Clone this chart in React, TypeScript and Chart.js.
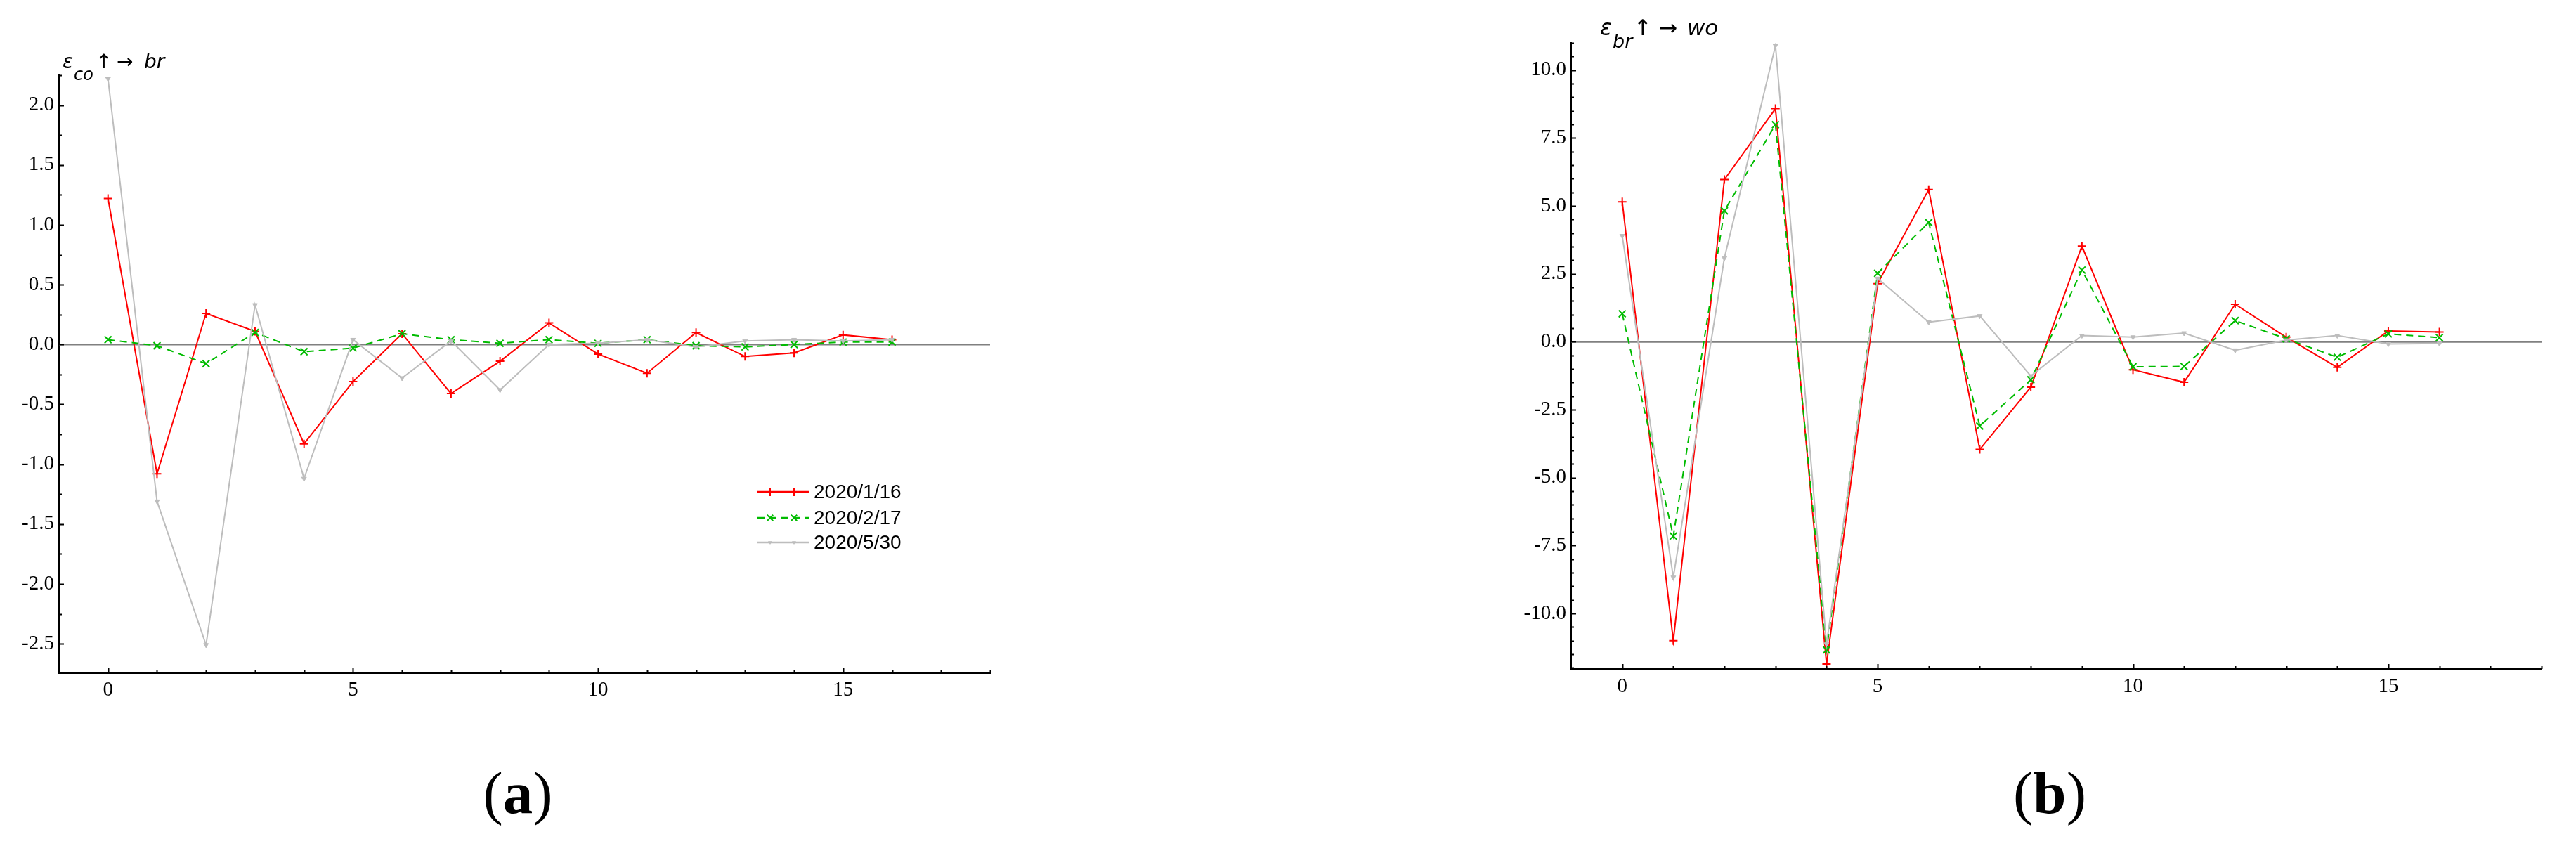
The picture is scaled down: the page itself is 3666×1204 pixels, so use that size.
import React, { useEffect, useRef } from 'react';
import { Chart, registerables } from 'chart.js';

Chart.register(...registerables);

// ---------- data ----------
const lags = [0, 1, 2, 3, 4, 5, 6, 7, 8, 9, 10, 11, 12, 13, 14, 15, 16];
const seriesNames = ['2020/1/16', '2020/2/17', '2020/5/30'];

// panel (a): ε_co ↑ → br
const aJan16 = [1.22, -1.08, 0.26, 0.11, -0.83, -0.31, 0.09, -0.41, -0.14, 0.18, -0.08, -0.24, 0.10, -0.10, -0.07, 0.08, 0.04];
const aFeb17 = [0.04, -0.01, -0.16, 0.10, -0.06, -0.03, 0.09, 0.04, 0.01, 0.04, 0.01, 0.04, -0.01, -0.02, 0.0, 0.02, 0.02];
const aMay30 = [2.22, -1.31, -2.51, 0.33, -1.12, 0.04, -0.28, 0.03, -0.38, 0.0, 0.01, 0.04, -0.02, 0.03, 0.04, 0.03, 0.04];

// panel (b): ε_br ↑ → wo
const bJan16 = [5.15, -11.0, 5.97, 8.58, -11.86, 2.14, 5.6, -3.96, -1.67, 3.52, -1.03, -1.49, 1.38, 0.17, -0.94, 0.4, 0.36];
const bFeb17 = [1.03, -7.15, 4.82, 7.99, -11.34, 2.52, 4.39, -3.1, -1.4, 2.64, -0.92, -0.91, 0.78, 0.11, -0.57, 0.29, 0.15];
const bMay30 = [3.9, -8.67, 3.08, 10.9, -11.13, 2.33, 0.72, 0.95, -1.26, 0.23, 0.17, 0.32, -0.31, 0.06, 0.23, -0.08, -0.06];

// ticks
const xTickLabels = [0, 5, 10, 15];
const yTickLabelsA = [-2.5, -2.0, -1.5, -1.0, -0.5, 0, 0.5, 1.0, 1.5, 2.0];
const yTickLabelsB = [-10, -7.5, -5, -2.5, 0, 2.5, 5, 7.5, 10];

// ---------- styles ----------
const seriesStyles = [
  { color: '#ff0000', dash: [] as number[], pointStyle: 'cross', r: 6, rot: 0, pbw: 2, order: 3 },
  { color: '#00bb00', dash: [10, 7], pointStyle: 'crossRot', r: 7, rot: 0, pbw: 2, order: 2 },
  { color: '#bdbdbd', dash: [] as number[], pointStyle: 'triangle', r: 4, rot: 180, pbw: 1, order: 1 },
];

const inTicksPlugin = {
  id: 'inTicks',
  afterDraw(chart: any, _args: any, opts: any) {
    const { ctx, chartArea } = chart;
    const xs = chart.scales.x;
    const ys = chart.scales.y;
    ctx.save();
    ctx.strokeStyle = '#000';
    ctx.lineWidth = 2;
    ctx.beginPath();
    const xMin = xs.min, xMax = xs.max;
    for (let v = Math.ceil(xMin); v <= xMax + 1e-9; v += 1) {
      if (v === xMin) continue;
      const px = Math.round(xs.getPixelForValue(v)) + 0.5;
      const len = v % 5 === 0 ? 7 : 4;
      ctx.moveTo(px, chartArea.bottom);
      ctx.lineTo(px, chartArea.bottom - len);
    }
    const step = opts.yMinorStep;
    const major = opts.yMajorStep;
    const start = Math.ceil(ys.min / step) * step;
    for (let v = start; v <= ys.max + 1e-9; v += step) {
      const py = Math.round(ys.getPixelForValue(v)) + 0.5;
      const isMajor = Math.abs(v / major - Math.round(v / major)) < 1e-6;
      const len = isMajor ? 7 : 4;
      ctx.moveTo(chartArea.left, py);
      ctx.lineTo(chartArea.left + len, py);
    }
    ctx.stroke();
    ctx.restore();
  },
};

const zeroLinePlugin = {
  id: 'zeroLine',
  beforeDatasetsDraw(chart: any) {
    const { ctx, chartArea } = chart;
    const py = chart.scales.y.getPixelForValue(0);
    ctx.save();
    ctx.strokeStyle = '#808080';
    ctx.lineWidth = 2.5;
    ctx.beginPath();
    ctx.moveTo(chartArea.left, py);
    ctx.lineTo(chartArea.right, py);
    ctx.stroke();
    ctx.restore();
  },
};

function drawMarker(ctx: CanvasRenderingContext2D, style: string, x: number, y: number, r: number) {
  ctx.beginPath();
  if (style === 'cross') {
    ctx.moveTo(x - r, y); ctx.lineTo(x + r, y);
    ctx.moveTo(x, y - r); ctx.lineTo(x, y + r);
    ctx.stroke();
  } else if (style === 'crossRot') {
    const d = r * 0.707;
    ctx.moveTo(x - d, y - d); ctx.lineTo(x + d, y + d);
    ctx.moveTo(x - d, y + d); ctx.lineTo(x + d, y - d);
    ctx.stroke();
  } else {
    ctx.moveTo(x - r, y - r * 0.6); ctx.lineTo(x + r, y - r * 0.6); ctx.lineTo(x, y + r);
    ctx.closePath();
    ctx.fill();
  }
}

const legendPlugin = {
  id: 'customLegend',
  afterDraw(chart: any, _args: any, opts: any) {
    if (!opts || !opts.show) return;
    const { ctx } = chart;
    const rows = [700, 737, 772];
    ctx.save();
    seriesNames.forEach((name, i) => {
      const st = seriesStyles[i];
      const y = rows[i];
      ctx.strokeStyle = st.color;
      ctx.fillStyle = st.color;
      ctx.lineWidth = 2.5;
      ctx.setLineDash(st.dash);
      ctx.beginPath();
      ctx.moveTo(1078, y);
      ctx.lineTo(1151, y);
      ctx.stroke();
      ctx.setLineDash([]);
      ctx.lineWidth = 2;
      const mr = i === 2 ? 3 : 6;
      drawMarker(ctx, st.pointStyle, 1096, y, mr);
      drawMarker(ctx, st.pointStyle, 1130, y, mr);
      ctx.fillStyle = '#000';
      ctx.font = '28px "Liberation Sans"';
      ctx.textBaseline = 'middle';
      ctx.textAlign = 'left';
      ctx.fillText(name, 1158, y + 1);
    });
    ctx.restore();
  },
};

function makeConfig(p: {
  series: number[][];
  yMin: number;
  yMax: number;
  yTicks: number[];
  yAxisWidth: number;
  padTop: number;
  padRight: number;
  yMinorStep: number;
  yMajorStep: number;
  legend: boolean;
}) {
  const tickFont = { family: '"Liberation Serif", serif', size: 29 };
  return {
    type: 'line',
    data: {
      datasets: p.series.map((vals, i) => {
        const st = seriesStyles[i];
        return {
          label: seriesNames[i],
          data: lags.map((x, j) => ({ x, y: vals[j] })),
          borderColor: st.color,
          backgroundColor: st.color,
          borderWidth: 2,
          borderDash: st.dash,
          pointStyle: st.pointStyle,
          pointRadius: st.r,
          pointRotation: st.rot,
          pointBorderColor: st.color,
          pointBackgroundColor: st.color,
          pointBorderWidth: st.pbw,
          tension: 0,
          fill: false,
          order: st.order,
        };
      }),
    },
    options: {
      animation: false,
      responsive: false,
      devicePixelRatio: 1,
      events: [],
      layout: { padding: { top: p.padTop, right: p.padRight, left: 0, bottom: 0 } },
      plugins: {
        legend: { display: false },
        tooltip: { enabled: false },
        inTicks: { yMinorStep: p.yMinorStep, yMajorStep: p.yMajorStep },
        customLegend: { show: p.legend },
      },
      scales: {
        x: {
          type: 'linear',
          min: -1,
          max: 18,
          afterBuildTicks: (s: any) => {
            s.ticks = xTickLabels.map((v) => ({ value: v }));
          },
          afterFit: (s: any) => {
            s.height = 60;
          },
          ticks: {
            callback: (v: any) => String(v),
            color: '#000',
            font: tickFont,
            padding: 8,
            maxRotation: 0,
            autoSkip: false,
          },
          grid: { display: true, drawOnChartArea: false, drawTicks: false },
          border: { display: true, color: '#000', width: 3 },
        },
        y: {
          type: 'linear',
          min: p.yMin,
          max: p.yMax,
          afterBuildTicks: (s: any) => {
            s.ticks = p.yTicks.map((v) => ({ value: v }));
          },
          afterFit: (s: any) => {
            s.width = p.yAxisWidth;
          },
          ticks: {
            callback: (v: any) => Number(v).toFixed(1),
            color: '#000',
            font: tickFont,
            padding: 7,
            autoSkip: false,
          },
          grid: { display: true, drawOnChartArea: false, drawTicks: false },
          border: { display: true, color: '#000', width: 2 },
        },
      },
    },
    plugins: [zeroLinePlugin, inTicksPlugin, legendPlugin],
  } as any;
}

function ChartCanvas(props: { left: number; top: number; width: number; height: number; config: () => any }) {
  const ref = useRef<HTMLCanvasElement>(null);
  useEffect(() => {
    const chart = new Chart(ref.current as HTMLCanvasElement, props.config());
    return () => chart.destroy();
  }, []);
  return (
    <canvas
      ref={ref}
      width={props.width}
      height={props.height}
      style={{ position: 'absolute', left: props.left, top: props.top, width: props.width, height: props.height }}
    />
  );
}

function T(props: {
  x: number;
  base: number;
  size: number;
  family: string;
  italic?: boolean;
  bold?: boolean;
  children: React.ReactNode;
}) {
  const k = props.family.includes('DejaVu') ? 0.846 : 0.8375;
  return (
    <div
      style={{
        position: 'absolute',
        left: props.x,
        top: props.base - k * props.size,
        fontSize: props.size,
        lineHeight: `${props.size}px`,
        fontFamily: props.family,
        fontStyle: props.italic ? 'italic' : 'normal',
        fontWeight: props.bold ? 'bold' : 'normal',
        whiteSpace: 'nowrap',
        color: '#000',
      }}
    >
      {props.children}
    </div>
  );
}

function Caption(props: { cx: number; base: number; letter: string }) {
  const size = 85;
  return (
    <div
      style={{
        position: 'absolute',
        left: props.cx - 200,
        width: 400,
        top: props.base - 0.8375 * size,
        fontSize: size,
        lineHeight: `${size}px`,
        fontFamily: '"Liberation Serif"',
        textAlign: 'center',
        color: '#000',
      }}
    >
      (<b>{props.letter}</b>)
    </div>
  );
}

const DV = '"DejaVu Sans"';

export default function App() {
  return (
    <div style={{ position: 'fixed', left: 0, top: 0, width: 3666, height: 1204, background: '#fff', overflow: 'hidden' }}>
      <ChartCanvas
        left={0}
        top={0}
        width={1500}
        height={1017}
        config={() =>
          makeConfig({
            series: [aJan16, aFeb17, aMay30],
            yMin: -2.74,
            yMax: 2.25,
            yTicks: yTickLabelsA,
            yAxisWidth: 84,
            padTop: 107,
            padRight: 91,
            yMinorStep: 0.25,
            yMajorStep: 0.5,
            legend: true,
          })
        }
      />
      <ChartCanvas
        left={2100}
        top={0}
        width={1566}
        height={1012}
        config={() =>
          makeConfig({
            series: [bJan16, bFeb17, bMay30],
            yMin: -12.04,
            yMax: 11,
            yTicks: yTickLabelsB,
            yAxisWidth: 136,
            padTop: 61,
            padRight: 49,
            yMinorStep: 0.5,
            yMajorStep: 2.5,
            legend: false,
          })
        }
      />

      {/* axis label (a) */}
      <T x={89} base={98} size={28} family={DV} italic>ε</T>
      <T x={105} base={114} size={24} family={DV} italic>co</T>
      <T x={136} base={98} size={28} family={DV}>↑</T>
      <T x={166} base={98} size={28} family={DV}>→</T>
      <T x={205} base={98} size={28} family={DV} italic>br</T>

      {/* axis label (b) */}
      <T x={2277} base={50} size={31} family={DV} italic>ε</T>
      <T x={2295} base={68} size={27} family={DV} italic>br</T>
      <T x={2325} base={50} size={31} family={DV}>↑</T>
      <T x={2361} base={50} size={31} family={DV}>→</T>
      <T x={2401} base={50} size={31} family={DV} italic>wo</T>

      <Caption cx={737} base={1157} letter="a" />
      <Caption cx={2917} base={1157} letter="b" />
    </div>
  );
}
